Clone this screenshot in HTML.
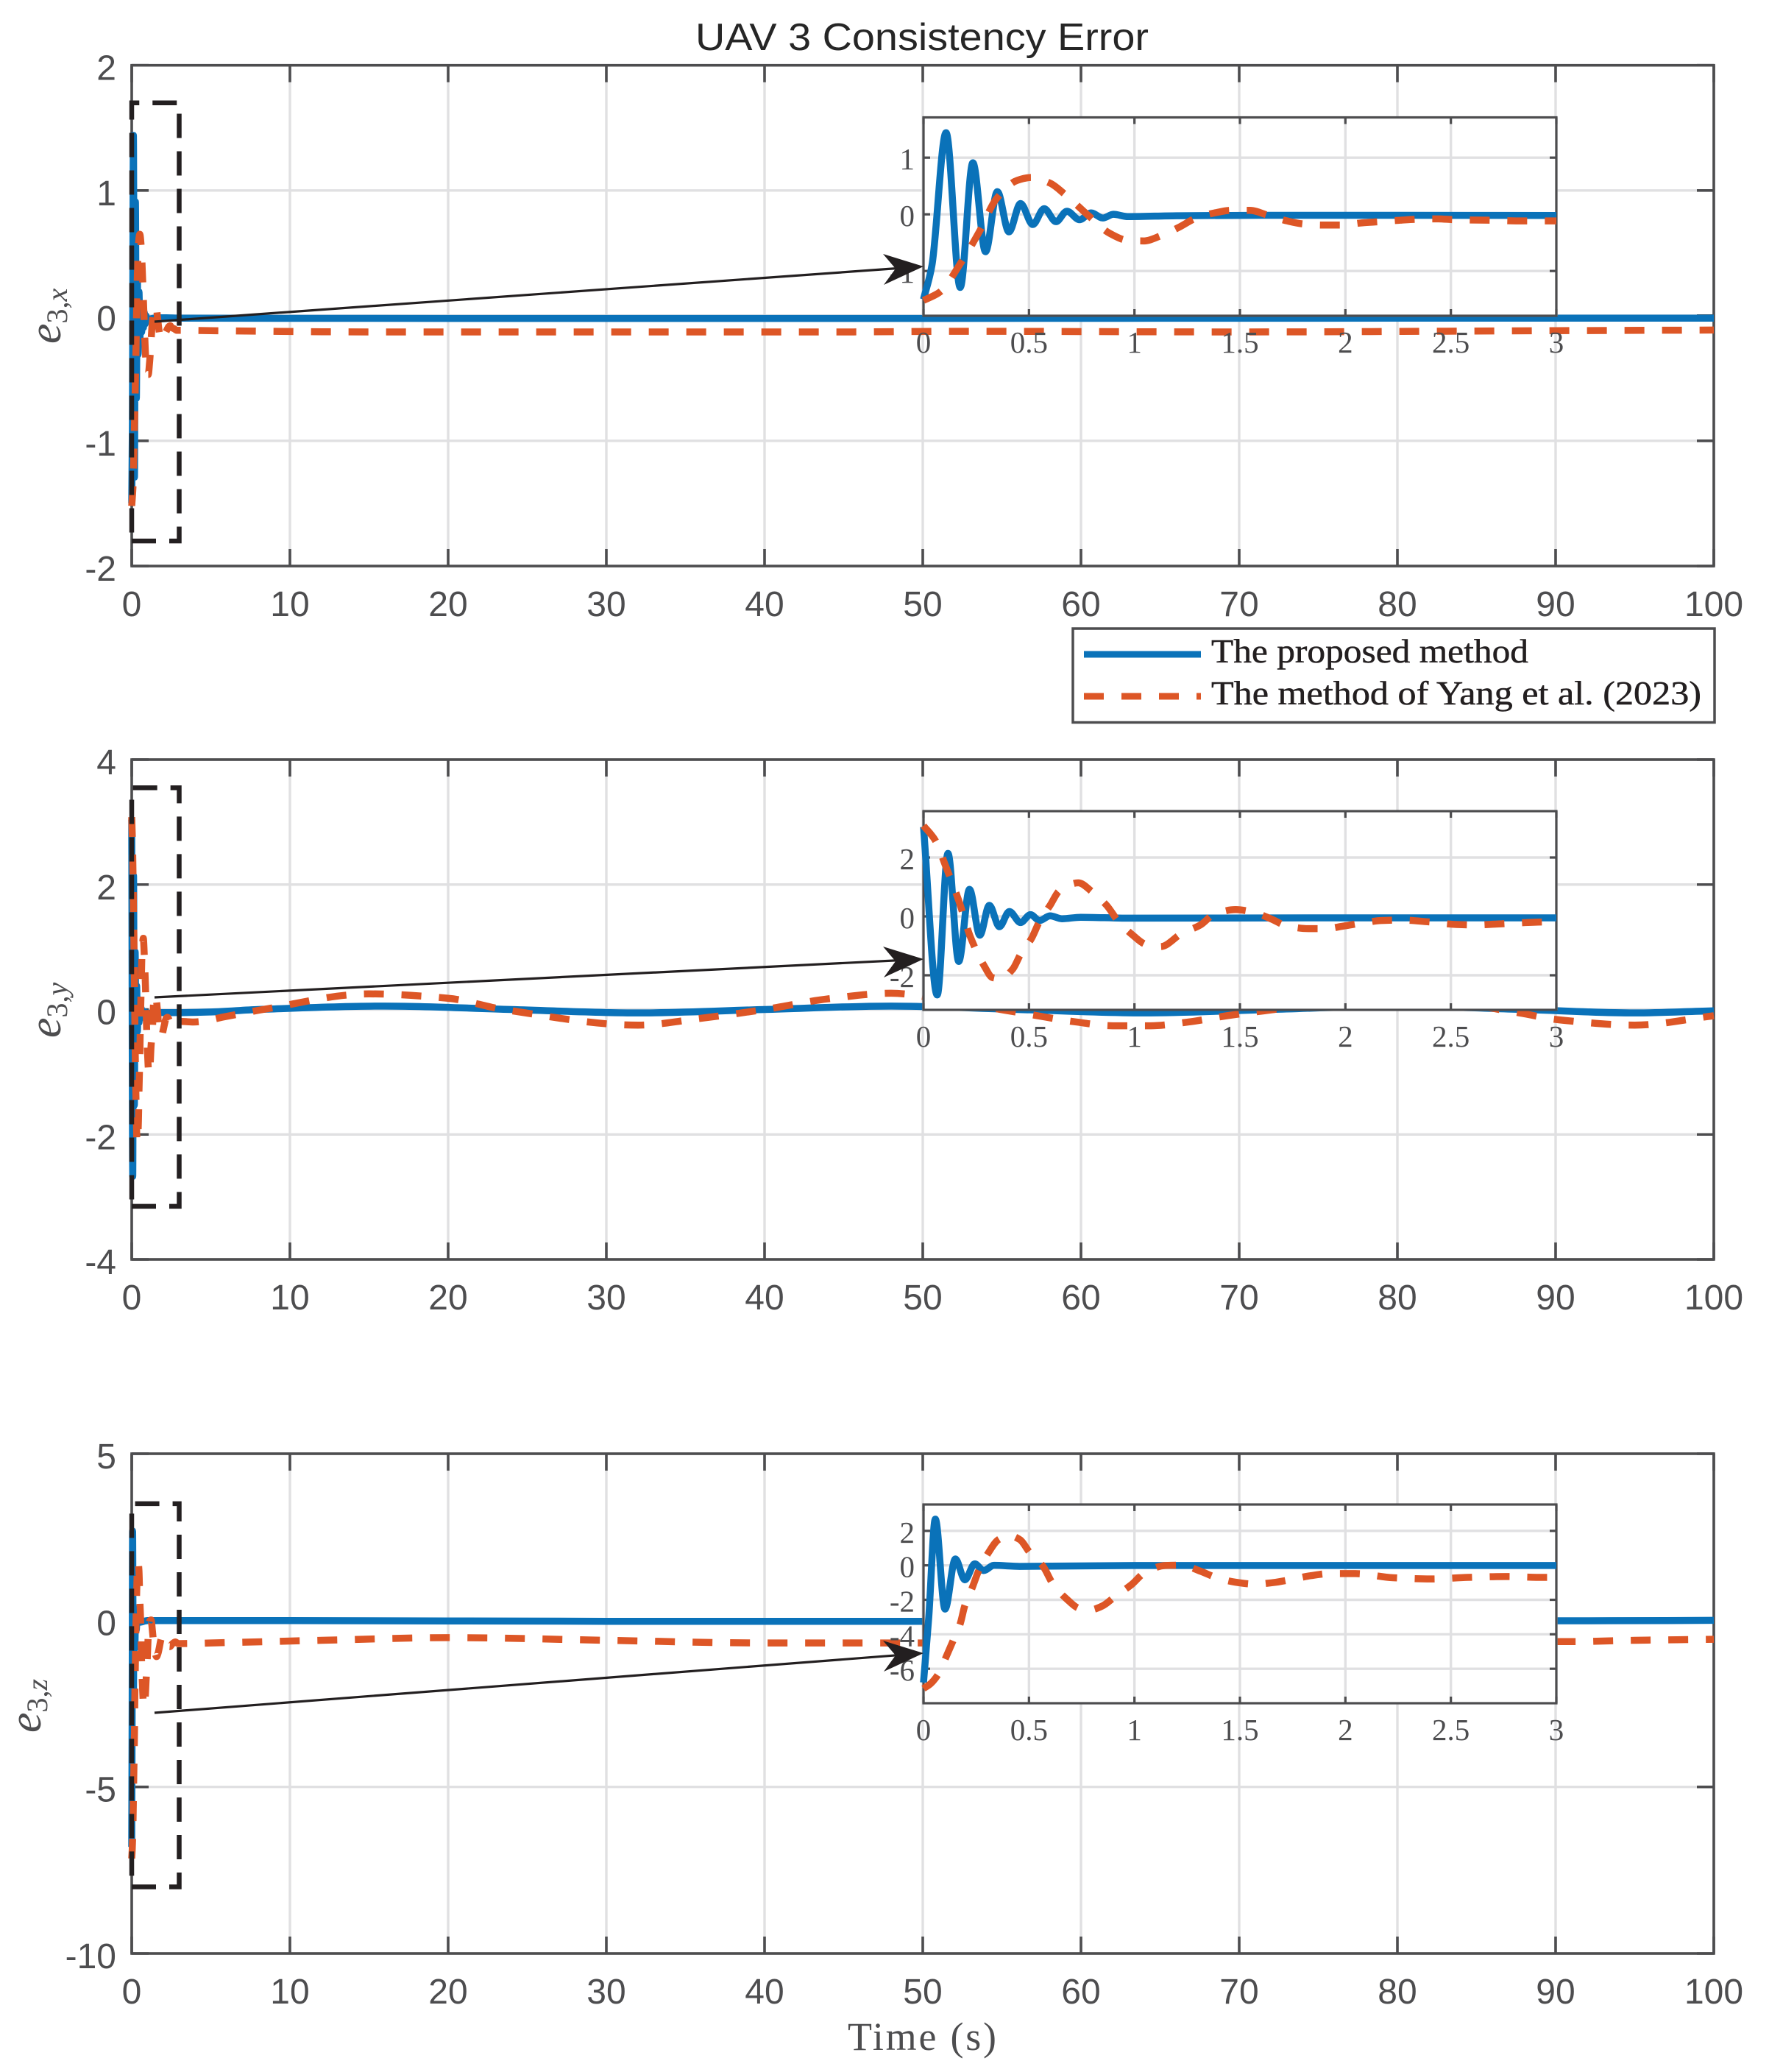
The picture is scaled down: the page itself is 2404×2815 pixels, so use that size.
<!DOCTYPE html>
<html lang="en">
<head>
<meta charset="utf-8">
<title>UAV 3 Consistency Error</title>
<style>
html,body{margin:0;padding:0;background:#fff;}
svg{display:block;}
</style>
</head>
<body>
<svg id="chart" xmlns="http://www.w3.org/2000/svg" width="2404" height="2815" viewBox="0 0 2404 2815">
  <rect x="0" y="0" width="2404" height="2815" fill="#ffffff"/>
  <text x="1253" y="68" text-anchor="middle" font-family="'Liberation Sans',sans-serif" font-size="52" fill="#262626" textLength="616" lengthAdjust="spacingAndGlyphs">UAV 3 Consistency Error</text>
  <g id="panel-x"></g>
  <g id="panel-y"></g>
  <g id="panel-z"></g>

  <text transform="translate(82 467) rotate(-90)" font-family="'Liberation Serif',serif" fill="#4d4d4f"><tspan font-style="italic" font-size="62">e</tspan><tspan font-size="40" dy="9">3,</tspan><tspan font-size="40" font-style="italic">x</tspan></text>
  <text transform="translate(82 1410) rotate(-90)" font-family="'Liberation Serif',serif" fill="#4d4d4f"><tspan font-style="italic" font-size="62">e</tspan><tspan font-size="40" dy="9">3,</tspan><tspan font-size="40" font-style="italic">y</tspan></text>
  <text transform="translate(55 2354) rotate(-90)" font-family="'Liberation Serif',serif" fill="#4d4d4f"><tspan font-style="italic" font-size="62">e</tspan><tspan font-size="40" dy="9">3,</tspan><tspan font-size="40" font-style="italic">z</tspan></text>
  <text x="1152" y="2785" font-family="'Liberation Serif',serif" font-size="54" fill="#4d4d4f" textLength="202" lengthAdjust="spacing">Time (s)</text>

  <g>
    <rect x="1458" y="854" width="872" height="127.5" fill="#ffffff" stroke="#4d4d4f" stroke-width="3.5"/>
    <line x1="1473" x2="1632" y1="889" y2="889" stroke="#0a72b9" stroke-width="9"/>
    <line x1="1473" x2="1632" y1="946" y2="946" stroke="#dd5626" stroke-width="9" stroke-dasharray="27 24"/>
    <text x="1646" y="900" font-family="'Liberation Serif',serif" font-size="46" fill="#231f20" stroke="#231f20" stroke-width="0.5" textLength="431" lengthAdjust="spacingAndGlyphs">The proposed method</text>
    <text x="1646" y="957" font-family="'Liberation Serif',serif" font-size="46" fill="#231f20" stroke="#231f20" stroke-width="0.5" textLength="666" lengthAdjust="spacingAndGlyphs">The method of Yang et al. (2023)</text>
  </g>
</svg>

<script>
// ---------- Tick labels ----------
const mainTimeTicks = [0, 10, 20, 30, 40, 50, 60, 70, 80, 90, 100];
const insetTimeTicks = [0, 0.5, 1, 1.5, 2, 2.5, 3];
const mainYTicksX = [-2, -1, 0, 1, 2];
const mainYTicksY = [-4, -2, 0, 2, 4];
const mainYTicksZ = [-10, -5, 0, 5];
const insetYTicksX = [-1, 0, 1];
const insetYTicksY = [-2, 0, 2];
const insetYTicksZ = [-6, -4, -2, 0, 2];

// ---------- e3,x : proposed method ----------
const xProposedTime = [0, 0.04, 0.107, 0.174, 0.234, 0.294, 0.35, 0.405, 0.46, 0.518, 0.572, 0.628, 0.68, 0.74, 0.795, 0.85, 0.9, 0.968, 1.2, 1.6, 2.2, 3];
const xProposedValue = [-1.5, -0.9, 1.44, -1.29, 0.91, -0.66, 0.4, -0.31, 0.19, -0.18, 0.1, -0.13, 0.055, -0.095, 0.025, -0.065, 0, -0.04, -0.025, -0.017, -0.017, -0.02];
const xProposedTailTime = [20, 50, 80, 100];
const xProposedTailValue = [-0.022, -0.022, -0.02, -0.02];

// ---------- e3,x : Yang et al. ----------
const xYangTime = [0, 0.078, 0.178, 0.267, 0.345, 0.445, 0.51, 0.6, 0.668, 0.79, 0.88, 0.968, 1.046, 1.124, 1.213, 1.29, 1.38, 1.458, 1.547, 1.635, 1.724, 1.8, 1.89, 1.98, 2.08, 2.16, 2.26, 2.34, 2.44, 2.515, 2.68, 2.84, 3];
const xYangValue = [-1.52, -1.37, -0.85, -0.29, 0.27, 0.6, 0.65, 0.55, 0.36, -0.05, -0.33, -0.46, -0.47, -0.38, -0.225, -0.07, 0.025, 0.07, 0.07, -0.02, -0.117, -0.17, -0.19, -0.19, -0.15, -0.13, -0.104, -0.087, -0.08, -0.095, -0.104, -0.117, -0.117];
const xYangTailTime = [5, 15, 30, 45, 52, 70, 90, 100];
const xYangTailValue = [-0.12, -0.13, -0.13, -0.13, -0.125, -0.13, -0.12, -0.115];

// ---------- e3,y : proposed method ----------
const yProposedTime = [0, 0.065, 0.116, 0.167, 0.218, 0.267, 0.312, 0.36, 0.407, 0.46, 0.507, 0.55, 0.6, 0.656, 0.745, 0.97, 1.9, 3];
const yProposedValue = [3.04, -2.67, 2.14, -1.53, 0.92, -0.64, 0.375, -0.35, 0.167, -0.21, 0.06, -0.14, 0.02, -0.08, -0.03, -0.06, -0.05, -0.05];
const yProposedTailTime = [5, 8, 16, 24, 32, 40, 48, 56, 64, 72, 80, 88, 95, 100];
const yProposedTailValue = [-0.04, 0, 0.055, 0, -0.055, 0, 0.055, 0, -0.055, 0, 0.055, 0, -0.055, -0.02];

// ---------- e3,y : Yang et al. ----------
const yYangTime = [0, 0.056, 0.105, 0.167, 0.223, 0.29, 0.327, 0.367, 0.423, 0.46, 0.512, 0.55, 0.6, 0.645, 0.734, 0.8, 0.868, 0.924, 0.99, 1.057, 1.124, 1.224, 1.313, 1.38, 1.48, 1.558, 1.647, 1.725, 1.825, 1.903, 1.99, 2.08, 2.17, 2.26, 2.39, 2.526, 2.615, 2.7, 2.79, 2.95, 3];
const yYangValue = [3.08, 2.58, 1.71, 0.54, -0.71, -1.71, -2.08, -2.12, -1.79, -1.29, -0.75, -0.17, 0.375, 0.875, 1.14, 0.83, 0.375, -0.17, -0.625, -0.96, -1.025, -0.58, -0.29, 0.083, 0.23, 0.15, -0.083, -0.33, -0.417, -0.417, -0.33, -0.225, -0.14, -0.125, -0.183, -0.275, -0.29, -0.267, -0.233, -0.19, -0.19];
const yYangTailTime = [3.9, 6, 8.3, 15, 20, 23.5, 32, 36, 40, 44, 48, 52, 56.8, 59.7, 62, 64.4, 66.8, 69.2, 71.3, 80, 87.6, 90.2, 95, 100];
const yYangTailValue = [-0.2, -0.11, 0, 0.25, 0.18, 0, -0.25, -0.14, 0, 0.17, 0.26, 0.12, -0.08, -0.2, -0.26, -0.26, -0.2, -0.1, -0.03, 0.22, -0.05, -0.165, -0.25, -0.1];

// ---------- e3,z : proposed method ----------
const zProposedTime = [0, 0.025, 0.056, 0.102, 0.151, 0.196, 0.243, 0.285, 0.334, 0.456, 1, 3];
const zProposedValue = [-6.8, -3, 2.68, -2.54, 0.37, -0.84, 0.085, -0.3, 0, -0.06, -0.01, -0.01];
const zProposedTailTime = [10, 30, 50, 70, 90, 97, 100];
const zProposedTailValue = [-0.01, -0.03, -0.03, -0.02, -0.015, -0.01, 0];

// ---------- e3,z : Yang et al. ----------
const zYangTime = [0, 0.033, 0.073, 0.11, 0.14, 0.174, 0.196, 0.23, 0.263, 0.307, 0.356, 0.405, 0.456, 0.505, 0.567, 0.612, 0.674, 0.741, 0.79, 0.846, 0.913, 0.986, 1.05, 1.146, 1.224, 1.313, 1.39, 1.48, 1.57, 1.658, 1.736, 1.836, 1.925, 2.048, 2.226, 2.404, 2.58, 2.76, 2.94, 3];
const zYangValue = [-7.15, -6.87, -6.26, -5.23, -4.38, -3.39, -2.33, -1.33, -0.27, 0.72, 1.5, 1.74, 1.5, 0.72, -0.06, -1.05, -1.9, -2.51, -2.58, -2.37, -1.76, -1.12, -0.41, -0.01, 0.01, -0.34, -0.72, -0.98, -1.09, -1, -0.84, -0.6, -0.48, -0.48, -0.72, -0.79, -0.7, -0.65, -0.7, -0.7];
const zYangTailTime = [5, 12, 20, 30, 40, 50, 70, 91, 95, 100];
const zYangTailValue = [-0.68, -0.6, -0.52, -0.6, -0.68, -0.68, -0.64, -0.64, -0.6, -0.57];

// ---------- Styling ----------
const NS = 'http://www.w3.org/2000/svg';
const AXIS = '#4d4d4f';
const GRID = '#e0e0e2';
const BLUE = '#0a72b9';
const ORANGE = '#dd5626';
const BLACK = '#231f20';

function make(parent, tag, name) {
  const el = document.createElementNS(NS, tag);
  
  
  parent.appendChild(el);
  return el;
}
function scale(d0, d1, r0, r1) {
  return function (v) { return r0 + (v - d0) * (r1 - r0) / (d1 - d0); };
}

// Monotone cubic path through the data points (no overshoot at extrema).
function curve(ts, vs, sx, sy) {
  const xs = ts.map(sx), ys = vs.map(sy), n = xs.length;
  const m = new Array(n).fill(0);
  for (let i = 1; i < n - 1; i++) {
    const a = (ys[i] - ys[i - 1]) / (xs[i] - xs[i - 1]);
    const b = (ys[i + 1] - ys[i]) / (xs[i + 1] - xs[i]);
    m[i] = a * b <= 0 ? 0 : 2 * a * b / (a + b);
  }
  m[0] = (ys[1] - ys[0]) / (xs[1] - xs[0]);
  m[n - 1] = (ys[n - 1] - ys[n - 2]) / (xs[n - 1] - xs[n - 2]);
  let d = 'M' + xs[0].toFixed(2) + ' ' + ys[0].toFixed(2);
  for (let i = 0; i < n - 1; i++) {
    const h = (xs[i + 1] - xs[i]) / 3;
    d += 'C' + (xs[i] + h).toFixed(2) + ' ' + (ys[i] + m[i] * h).toFixed(2) + ' ' +
      (xs[i + 1] - h).toFixed(2) + ' ' + (ys[i + 1] - m[i + 1] * h).toFixed(2) + ' ' +
      xs[i + 1].toFixed(2) + ' ' + ys[i + 1].toFixed(2);
  }
  return d;
}

function drawFrame(g, o) {
  const sx = o.sx, sy = o.sy;
  o.xTicks.forEach(function (t) {
    const line = make(g, 'line', o.prefix + '-x-gridline');
    line.setAttribute('x1', sx(t)); line.setAttribute('x2', sx(t));
    line.setAttribute('y1', o.top); line.setAttribute('y2', o.bottom);
    line.setAttribute('stroke', GRID); line.setAttribute('stroke-width', o.gridW);
  });
  o.yTicks.forEach(function (v) {
    const line = make(g, 'line', o.prefix + '-y-gridline');
    line.setAttribute('x1', o.left); line.setAttribute('x2', o.right);
    line.setAttribute('y1', sy(v)); line.setAttribute('y2', sy(v));
    line.setAttribute('stroke', GRID); line.setAttribute('stroke-width', o.gridW);
  });
  o.xTicks.forEach(function (t) {
    [[o.top, o.top + o.tick], [o.bottom, o.bottom - o.tick]].forEach(function (p) {
      const line = make(g, 'line', o.prefix + '-x-tick');
      line.setAttribute('x1', sx(t)); line.setAttribute('x2', sx(t));
      line.setAttribute('y1', p[0]); line.setAttribute('y2', p[1]);
      line.setAttribute('stroke', AXIS); line.setAttribute('stroke-width', o.frameW);
    });
  });
  o.yTicks.forEach(function (v) {
    [[o.left, o.left + o.tick], [o.right, o.right - o.tick]].forEach(function (p) {
      const line = make(g, 'line', o.prefix + '-y-tick');
      line.setAttribute('x1', p[0]); line.setAttribute('x2', p[1]);
      line.setAttribute('y1', sy(v)); line.setAttribute('y2', sy(v));
      line.setAttribute('stroke', AXIS); line.setAttribute('stroke-width', o.frameW);
    });
  });
  const box = make(g, 'rect', o.prefix + '-frame');
  box.setAttribute('x', o.left); box.setAttribute('y', o.top);
  box.setAttribute('width', o.right - o.left); box.setAttribute('height', o.bottom - o.top);
  box.setAttribute('fill', 'none'); box.setAttribute('stroke', AXIS); box.setAttribute('stroke-width', o.frameW);
}

function drawLabels(g, o) {
  o.xTicks.forEach(function (t) {
    const tx = make(g, 'text', o.prefix + '-x-tick-label');
    tx.setAttribute('x', o.sx(t));
    tx.setAttribute('y', o.bottom + o.xLabelOffset);
    tx.setAttribute('text-anchor', 'middle');
    tx.setAttribute('font-family', o.font);
    tx.setAttribute('font-size', o.fontSize);
    tx.setAttribute('fill', AXIS);
    tx.textContent = String(t);
  });
  o.yTicks.forEach(function (v) {
    const tx = make(g, 'text', o.prefix + '-y-tick-label');
    tx.setAttribute('x', o.yLabelRight);
    tx.setAttribute('y', o.sy(v) + o.yLabelOffset);
    tx.setAttribute('text-anchor', 'end');
    tx.setAttribute('font-family', o.font);
    tx.setAttribute('font-size', o.fontSize);
    tx.setAttribute('fill', AXIS);
    tx.textContent = String(v);
  });
}

function drawSeries(g, name, d, color, dashed) {
  const p = make(g, 'path', name);
  p.setAttribute('d', d);
  p.setAttribute('fill', 'none');
  p.setAttribute('stroke', color);
  p.setAttribute('stroke-width', 9.5);
  p.setAttribute('stroke-linejoin', 'round');
  if (dashed) p.setAttribute('stroke-dasharray', '27 24');
}

function drawPanel(c) {
  const g = document.getElementById(c.id);
  const sx = scale(0, 100, 179, 2329);
  const sy = scale(c.ylim[0], c.ylim[1], c.bottom, c.top);
  const main = {
    prefix: c.key + '-main', sx: sx, sy: sy, left: 179, right: 2329, top: c.top, bottom: c.bottom,
    xTicks: mainTimeTicks, yTicks: c.yTicks, tick: 23, gridW: 3.4, frameW: 3.6,
    font: "'Liberation Sans',sans-serif", fontSize: 48, xLabelOffset: 68, yLabelRight: 158, yLabelOffset: 20
  };
  drawFrame(g, main);
  drawLabels(g, main);

  drawSeries(g, c.key + '-proposed-line', curve(c.pt.concat(c.ptt), c.pv.concat(c.ptv), sx, sy), BLUE, false);
  drawSeries(g, c.key + '-yang-line', curve(c.yt.concat(c.ytt), c.yv.concat(c.ytv), sx, sy), ORANGE, true);

  // Inset
  const isx = scale(0, 3, 1255, 2115);
  const isy = scale(c.ilim[0], c.ilim[1], c.ibottom, c.itop);
  const bg = make(g, 'rect', c.key + '-inset-background');
  bg.setAttribute('x', 1255); bg.setAttribute('y', c.itop);
  bg.setAttribute('width', 860); bg.setAttribute('height', c.ibottom - c.itop);
  bg.setAttribute('fill', '#ffffff');
  const inset = {
    prefix: c.key + '-inset', sx: isx, sy: isy, left: 1255, right: 2115, top: c.itop, bottom: c.ibottom,
    xTicks: insetTimeTicks, yTicks: c.iTicks, tick: 9, gridW: 3.4, frameW: 3.2,
    font: "'Liberation Serif',serif", fontSize: 41, xLabelOffset: 50, yLabelRight: 1243, yLabelOffset: 16
  };
  drawFrame(g, inset);
  drawLabels(g, inset);
  drawSeries(g, c.key + '-inset-proposed-line', curve(c.pt, c.pv, isx, isy), BLUE, false);
  drawSeries(g, c.key + '-inset-yang-line', curve(c.yt, c.yv, isx, isy), ORANGE, true);

  // Zoom-region dashed box
  const bx0 = sx(0), bx1 = sx(3), by0 = sy(c.boxY[0]), by1 = sy(c.boxY[1]);
  const box = make(g, 'path', c.key + '-zoom-region-box');
  box.setAttribute('d', 'M' + bx0 + ' ' + by0 + 'H' + bx1 + 'V' + by1 + 'H' + bx0 + 'V' + by0);
  box.setAttribute('fill', 'none');
  box.setAttribute('stroke', BLACK);
  box.setAttribute('stroke-width', 6.5);
  box.setAttribute('stroke-dasharray', '33 18');

  // Arrow from the box to the inset
  const shaft = make(g, 'line', c.key + '-zoom-arrow-shaft');
  shaft.setAttribute('x1', 210); shaft.setAttribute('y1', c.arrowStart);
  shaft.setAttribute('x2', 1225); shaft.setAttribute('y2', c.arrowTip + (c.arrowStart - c.arrowTip) * 30 / 1045);
  shaft.setAttribute('stroke', BLACK); shaft.setAttribute('stroke-width', 3.2);
  const head = make(g, 'polygon', c.key + '-zoom-arrow-head');
  head.setAttribute('points', '1255,' + c.arrowTip + ' 1200,' + (c.arrowTip - 17) + ' 1217,' + (c.arrowTip + 3) + ' 1201,' + (c.arrowTip + 25));
  head.setAttribute('fill', BLACK);
}

drawPanel({
  id: 'panel-x', key: 'e3x', top: 88.7, bottom: 769, ylim: [-2, 2], yTicks: mainYTicksX,
  itop: 159.5, ibottom: 429, ilim: [-1.79, 1.71], iTicks: insetYTicksX,
  boxY: [-1.8, 1.7], arrowStart: 437, arrowTip: 362,
  pt: xProposedTime, pv: xProposedValue, ptt: xProposedTailTime, ptv: xProposedTailValue,
  yt: xYangTime, yv: xYangValue, ytt: xYangTailTime, ytv: xYangTailValue
});
drawPanel({
  id: 'panel-y', key: 'e3y', top: 1032, bottom: 1711, ylim: [-4, 4], yTicks: mainYTicksY,
  itop: 1102, ibottom: 1372, ilim: [-3.175, 3.575], iTicks: insetYTicksY,
  boxY: [-3.15, 3.55], arrowStart: 1355, arrowTip: 1303,
  pt: yProposedTime, pv: yProposedValue, ptt: yProposedTailTime, ptv: yProposedTailValue,
  yt: yYangTime, yv: yYangValue, ytt: yYangTailTime, ytv: yYangTailValue
});
drawPanel({
  id: 'panel-z', key: 'e3z', top: 1975, bottom: 2654, ylim: [-10, 5], yTicks: mainYTicksZ,
  itop: 2044, ibottom: 2314, ilim: [-8, 3.53], iTicks: insetYTicksZ,
  boxY: [-8, 3.5], arrowStart: 2327, arrowTip: 2246,
  pt: zProposedTime, pv: zProposedValue, ptt: zProposedTailTime, ptv: zProposedTailValue,
  yt: zYangTime, yv: zYangValue, ytt: zYangTailTime, ytv: zYangTailValue
});
</script>
</body>
</html>
